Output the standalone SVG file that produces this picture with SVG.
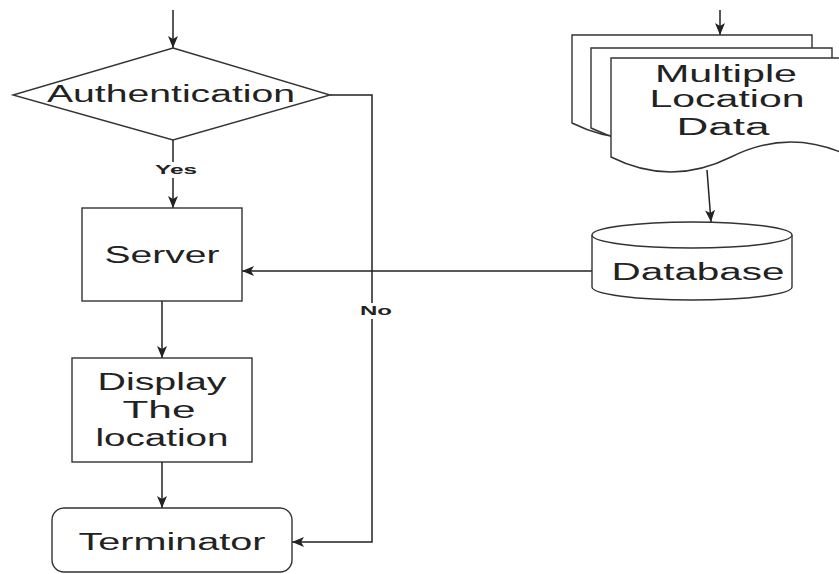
<svg xmlns="http://www.w3.org/2000/svg" width="839" height="574" viewBox="0 0 839 574">
<defs>
<style>
.shape{fill:#fff;stroke:#333;stroke-width:1.4}
.edge{fill:none;stroke:#222;stroke-width:1.5}
.t{font-family:"Liberation Sans",Arial,sans-serif;font-size:23px;fill:#222;text-anchor:middle}
.lbl{font-family:"Liberation Sans",Arial,sans-serif;font-size:13px;font-weight:bold;fill:#222;text-anchor:middle}
</style>
<marker id="arr" viewBox="0 0 12 10" markerWidth="12" markerHeight="10" refX="12" refY="5" orient="auto" markerUnits="userSpaceOnUse">
<path d="M0,0 L12,5 L0,10 L3,5 Z" fill="#222"/>
</marker>
</defs>
<rect width="839" height="574" fill="#fff"/>

<g id="connectors">
<path class="edge" d="M173,10 V48" marker-end="url(#arr)"/>
<path class="edge" d="M173,140 V208" marker-end="url(#arr)"/>
<path class="edge" d="M330,95 H372 V542 H292" marker-end="url(#arr)"/>
<path class="edge" d="M162,301 V358" marker-end="url(#arr)"/>
<path class="edge" d="M162,462 V508" marker-end="url(#arr)"/>
<path class="edge" d="M720,10 V35" marker-end="url(#arr)"/>
<path class="edge" d="M707,170 L711,222" marker-end="url(#arr)"/>
<path class="edge" d="M592,271 H242" marker-end="url(#arr)"/>
<rect x="152" y="162" width="46" height="16" fill="#fff"/>
<text class="lbl" x="176" y="174" textLength="42" lengthAdjust="spacingAndGlyphs">Yes</text>
<rect x="358" y="303" width="36" height="16" fill="#fff"/>
<text class="lbl" x="376" y="315" textLength="32" lengthAdjust="spacingAndGlyphs">No</text>
</g>

<g id="authentication">
<polygon class="shape" points="173,48 330,95 173,140 13,95"/>
<text class="t" x="171" y="102" textLength="248" lengthAdjust="spacingAndGlyphs">Authentication</text>
</g>

<g id="server">
<rect class="shape" x="82" y="208" width="160" height="93"/>
<text class="t" x="162" y="263" textLength="115" lengthAdjust="spacingAndGlyphs">Server</text>
</g>

<g id="display">
<rect class="shape" x="72" y="358" width="180" height="104"/>
<text class="t" x="162" y="390" textLength="129" lengthAdjust="spacingAndGlyphs">Display</text>
<text class="t" x="159" y="418" textLength="73" lengthAdjust="spacingAndGlyphs">The</text>
<text class="t" x="162" y="446" textLength="133" lengthAdjust="spacingAndGlyphs">location</text>
</g>

<g id="terminator">
<rect class="shape" x="52" y="508" width="240" height="64" rx="12"/>
<text class="t" x="172" y="550" textLength="187" lengthAdjust="spacingAndGlyphs">Terminator</text>
</g>

<g id="multiple-location-data">
<path class="shape" d="M572,35 H812 V123 Q752,93 692,123 Q632,153 572,123 Z"/>
<path class="shape" d="M591,48 H832 V128 Q772,98 712,128 Q652,158 591,128 Z"/>
<path class="shape" d="M611,58 H851 V157 Q791,127 731,157 Q671,187 611,157 Z"/>
<text class="t" x="726" y="82" textLength="142" lengthAdjust="spacingAndGlyphs">Multiple</text>
<text class="t" x="727" y="107" textLength="155" lengthAdjust="spacingAndGlyphs">Location</text>
<text class="t" x="723" y="135" textLength="93" lengthAdjust="spacingAndGlyphs">Data</text>
</g>

<g id="database">
<path class="shape" d="M592,235 A100,13 0 0 1 792,235 V287 A100,13 0 0 1 592,287 Z"/>
<path class="shape" fill="none" d="M592,235 A100,13 0 0 0 792,235"/>
<text class="t" x="698" y="280" textLength="173" lengthAdjust="spacingAndGlyphs">Database</text>
</g>
</svg>
